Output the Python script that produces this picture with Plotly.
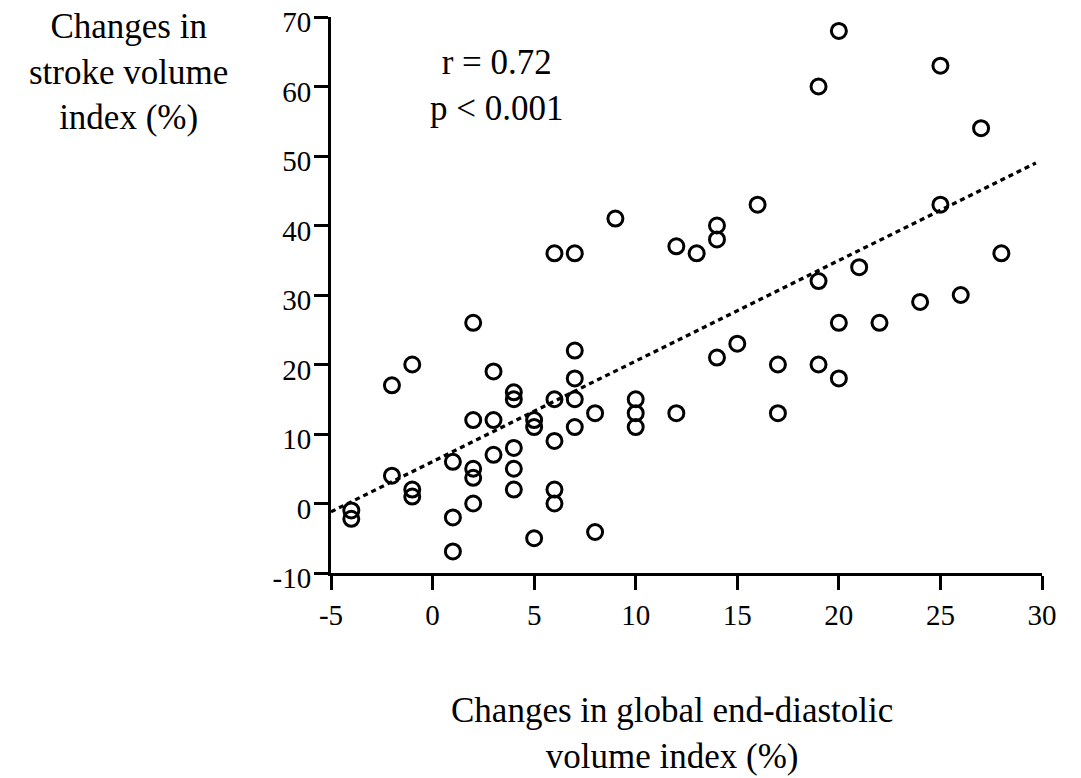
import plotly.graph_objects as go

# Changes in global end-diastolic volume index (%)
gedvi_change = [-4, -4, -2, -2, -1, -1, -1, 1, 1, 1,
                2, 2, 2, 2, 2, 3, 3, 3, 4, 4,
                4, 4, 4, 5, 5, 5, 6, 6, 6, 6,
                6, 7, 7, 7, 7, 7, 8, 8, 9, 10,
                10, 10, 12, 12, 13, 14, 14, 14, 15, 16,
                17, 17, 19, 19, 19, 20, 20, 20, 21, 22,
                24, 25, 25, 26, 27, 28]
# Changes in stroke volume index (%)
svi_change = [-1, -2.2, 17, 4, 20, 2, 1, 6, -2, -6.9,
              26, 12, 5, 3.7, 0, 19, 12, 7, 16, 15,
              8, 5, 2, 12, 11, -5, 36, 15, 9, 2,
              0, 36, 22, 18, 15, 11, 13, -4.1, 41, 15,
              13, 11, 37, 13, 36, 40, 38, 21, 23, 43,
              20, 13, 60, 32, 20, 68, 26, 18, 34, 26,
              29, 63, 43, 30, 54, 36]

# Regression line
trend_x = [-5, 29.7]
trend_y = [-1.2, 49.0]

x_ticks = [-5, 0, 5, 10, 15, 20, 25, 30]
y_ticks = [-10, 0, 10, 20, 30, 40, 50, 60, 70]

stats_text = "r = 0.72<br>p < 0.001"
x_title = "Changes in global end-diastolic<br>volume index (%)"
y_title = "Changes in<br>stroke volume<br>index (%)"

FONT = "Liberation Serif, Times New Roman, serif"

# page pixel geometry of the plot area (the html body adds an 8px margin)
PX_L, PX_R, PX_T, PX_B = 331, 1042, 17, 573
BODY = 8
W, H = 1081, 778


def px_x(px):
    return (px - PX_L) / (PX_R - PX_L)


def px_y(py):
    return (PX_B - py) / (PX_B - PX_T)


fig = go.Figure()
fig.add_trace(go.Scatter(
    x=trend_x, y=trend_y, mode="lines",
    line=dict(color="black", width=3.3, dash="5px,4px"),
    showlegend=False, hoverinfo="skip"))
fig.add_trace(go.Scatter(
    x=gedvi_change, y=svi_change, mode="markers",
    marker=dict(symbol="circle-open", size=15, color="black",
                line=dict(color="black", width=3)),
    showlegend=False, cliponaxis=False))

axis_common = dict(showgrid=False, zeroline=False, showline=True, linecolor="black",
                   linewidth=3, ticks="outside", tickwidth=3, tickcolor="black",
                   automargin=False, ticklabeloverflow="allow",
                   tickfont=dict(size=29, family=FONT))

fig.update_layout(
    width=W, height=H,
    margin=dict(l=PX_L - BODY, r=W - (PX_R - BODY), t=PX_T - BODY, b=H - (PX_B - BODY)),
    paper_bgcolor="white", plot_bgcolor="white",
    font=dict(family=FONT, color="black", size=28),
    xaxis=dict(range=[-5, 30], tickvals=x_ticks, ticktext=[str(v) for v in x_ticks],
               ticklen=14, **axis_common),
    yaxis=dict(range=[-10, 70], tickvals=y_ticks, ticktext=[str(v) for v in y_ticks],
               ticklen=14, ticklabelstandoff=-3, ticklabelshift=5, **axis_common),
    annotations=[
        dict(text=stats_text, xref="paper", yref="paper",
             x=px_x(497), y=px_y(85),
             xanchor="center", yanchor="middle", showarrow=False,
             font=dict(size=35, family=FONT)),
        dict(text=y_title, xref="paper", yref="paper",
             x=px_x(128), y=px_y(72),
             xanchor="center", yanchor="middle", showarrow=False,
             font=dict(size=35, family=FONT)),
        dict(text=x_title, xref="paper", yref="paper",
             x=px_x(672), y=px_y(733),
             xanchor="center", yanchor="middle", showarrow=False,
             font=dict(size=35, family=FONT)),
    ],
)

fig.write_html("out.html")
